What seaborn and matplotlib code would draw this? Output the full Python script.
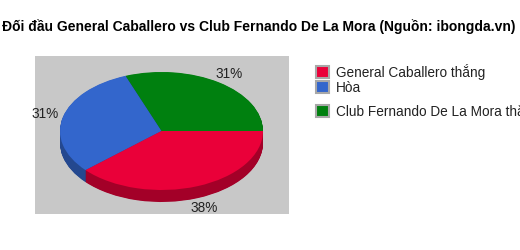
import matplotlib
matplotlib.use("Agg")
import matplotlib.pyplot as plt
import seaborn as sns
from matplotlib.patches import Patch

sns.set_style("white")
plt.rcParams['font.family'] = ['Liberation Sans', 'DejaVu Sans']

title = "Đối đầu General Caballero vs Club Fernando De La Mora (Nguồn: ibongda.vn)"
categories = ["General Caballero thắng", "Hòa", "Club Fernando De La Mora thắng"]
values = [5, 4, 4]
top_colors = ["#EA0039", "#3366CC", "#00800F"]
side_colors = ["#A30028", "#24488F", "#005A0A"]

# drawing order: green from 0 deg ccw, then blue, then red
order = [2, 1, 0]
vals = [values[i] for i in order]
tops = [top_colors[i] for i in order]
sides = [side_colors[i] for i in order]

W, H = 520, 250
fig = plt.figure(figsize=(W / 100, H / 100), dpi=100)

px0, py0, px1, py1 = 35, 56, 289, 214
ax = fig.add_axes([px0 / W, 1 - py1 / H, (px1 - px0) / W, (py1 - py0) / H])
ax.set_facecolor("#C8C8C8")
for s in ax.spines.values():
    s.set_visible(False)

cx, cy = 161.5, 131.0
rx, ry = 101.5, 59.0
depth = 12.0 / ry
xspan = (px1 - px0) / rx
yspan = (py1 - py0) / ry
fx = (cx - px0) / (px1 - px0)
fy = (py1 - cy) / (py1 - py0)

n_layers = 24
for k in range(n_layers, 0, -1):
    d = depth * k / n_layers
    ax.pie(vals, colors=sides, startangle=0, counterclock=True,
           center=(0, -d), radius=1.0, frame=True,
           wedgeprops=dict(linewidth=0))

wedges, texts, autotexts = ax.pie(
    vals, colors=tops, startangle=0, counterclock=True, center=(0, 0),
    radius=1.0, frame=True, autopct="%1.0f%%", pctdistance=1.18,
    wedgeprops=dict(linewidth=0),
    textprops=dict(fontsize=9.8, color="#222222"))
for t in autotexts:
    x, y = t.get_position()
    if y < 0:
        t.set_position((x, y - depth))
ax.set_xlim(-fx * xspan, (1 - fx) * xspan)
ax.set_ylim(-fy * yspan, (1 - fy) * yspan)
ax.set_xticks([])
ax.set_yticks([])
ax.set_aspect("auto")

fig.text(2 / W, 1 - 26.5 / H, title, fontsize=10, fontweight="bold",
         ha="left", va="center", color="#000000")

row_y = [72, 88, 111]
for i, lab in enumerate(categories):
    h = Patch(facecolor=top_colors[i], edgecolor="#A8A8A8", linewidth=1.5)
    fig.legend([h], [lab], loc="center left",
               bbox_to_anchor=(309 / W, 1 - row_y[i] / H),
               frameon=False, fontsize=9.8, handlelength=1.0,
               handleheight=1.0, handletextpad=0.45, borderpad=0,
               labelcolor="#222222")

fig.savefig("out.png", dpi=100)
